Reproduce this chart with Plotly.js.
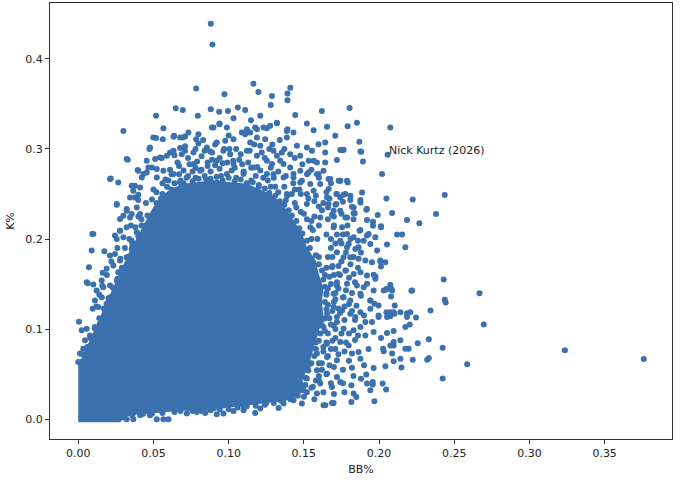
<!DOCTYPE html>
<html>
<head>
<meta charset="utf-8">
<script src="https://cdn.plot.ly/plotly-3.0.1.min.js"></script>
<style>
  html, body { margin: 0; padding: 0; background: #fff; }
  #chart { width: 680px; height: 483px; }
</style>
</head>
<body>
<div id="chart"></div>
<script>
// BB% / K% pairs

// the solid mass of players: its outline
const nucleo = [
  [0, 0], [0.027, 0], [0.029, 0.005], [0.034, 0.007], [0.040, 0.009], [0.050, 0.010],
  [0.062, 0.011], [0.070, 0.013], [0.080, 0.012], [0.090, 0.014], [0.100, 0.015],
  [0.110, 0.017], [0.120, 0.019], [0.130, 0.022], [0.138, 0.024], [0.145, 0.028],
  [0.148, 0.035], [0.147, 0.045], [0.150, 0.055], [0.153, 0.070], [0.156, 0.085],
  [0.158, 0.100], [0.161, 0.115], [0.160, 0.130], [0.161, 0.145], [0.158, 0.160],
  [0.156, 0.175], [0.150, 0.190], [0.147, 0.205], [0.141, 0.220], [0.135, 0.235],
  [0.128, 0.246], [0.120, 0.252], [0.112, 0.258], [0.100, 0.260], [0.090, 0.262],
  [0.080, 0.260], [0.070, 0.258], [0.062, 0.252], [0.056, 0.244], [0.051, 0.232],
  [0.047, 0.220], [0.043, 0.207], [0.039, 0.195], [0.035, 0.182], [0.031, 0.167],
  [0.027, 0.152], [0.023, 0.137], [0.019, 0.120], [0.015, 0.105], [0.011, 0.090],
  [0.007, 0.076], [0.004, 0.066], [0.001, 0.062], [0, 0.060]
];

// points crowding the edge of the solid mass
const borde = [
  [.052,.240],[.056,.250],[.059,.258],[.064,.262],[.068,.265],[.072,.268],[.076,.264],[.080,.267],
  [.084,.270],[.088,.267],[.092,.269],[.096,.265],[.100,.268],[.104,.264],[.108,.266],[.112,.262],
  [.116,.263],[.120,.258],[.124,.256],[.127,.251],[.131,.248],[.134,.242],[.137,.238],[.140,.232],
  [.142,.226],[.145,.220],[.147,.212],[.149,.206],[.152,.198],[.154,.190],
  [.062,.272],[.070,.276],[.078,.279],[.086,.281],[.094,.278],[.102,.276],[.110,.274],[.118,.270],
  [.126,.265],[.131,.258],[.139,.248],[.144,.240],[.148,.230],[.152,.222],[.156,.210],[.159,.200],
  [.058,.266],[.052,.252],[.049,.244],
  [.158,.182],[.160,.172],[.162,.165],[.163,.155],[.164,.147],[.165,.138],[.164,.130],[.165,.122],
  [.164,.112],[.162,.104],[.161,.095],[.160,.087],[.158,.078],[.157,.070],[.155,.062],[.153,.054],
  [.151,.046],[.151,.038],
  [.168,.190],[.166,.180],[.169,.170],[.170,.160],[.168,.150],[.171,.140],[.170,.130],[.169,.120],
  [.168,.105],[.166,.095],[.165,.085],[.163,.075],[.162,.062],[.160,.048],
  [.046,.226],[.042,.215],[.040,.203],[.036,.192],[.033,.180],[.029,.168],[.026,.156],[.023,.146],
  [.020,.134],[.017,.123],[.014,.112],[.011,.101],[.008,.090],[.006,.080],[.003,.072],
  [.030,.002],[.036,.004],[.043,.006],[.049,.006],[.056,.007],[.064,.008],[.068,.009],[.076,.009],
  [.082,.009],[.088,.010],[.094,.011],[.100,.011],[.106,.013],[.112,.014],[.118,.015],[.124,.016],
  [.130,.018],[.136,.020],[.141,.022],[.146,.026],
  [.162,.232],[.166,.222],[.170,.215],[.172,.205],[.175,.195],[.168,.200],[.165,.205],[.160,.215],
  [.157,.225],[.163,.240],[.167,.245],[.158,.248],[.153,.245],[.148,.250],[.144,.255],[.175,.175],
  [.178,.165],[.173,.145],[.176,.135],[.177,.125],[.174,.118],[.172,.108],[.175,.095],[.171,.090],
  [.168,.078],[.173,.072],[.167,.060],[.162,.055],[.158,.043],[.155,.035],[.152,.030],
  [.066,.285],[.073,.290],[.082,.292],[.086,.285],[.094,.290],[.099,.285],[.107,.288],[.113,.285],
  [.119,.280],[.124,.290],[.084,.298],[.091,.305],[.105,.300],[.117,.305],[.129,.305],[.134,.310],
  [.100,.315],[.083,.310]
];

// thick band just right of the mass
const bandaDerecha = [
  [.166,.235],[.171,.238],[.175,.228],[.170,.225],[.179,.215],[.183,.222],[.176,.205],[.181,.200],
  [.186,.198],[.171,.195],[.178,.185],[.183,.180],[.188,.185],[.169,.180],[.173,.170],[.181,.172],
  [.186,.168],[.165,.168],[.174,.160],[.180,.157],[.167,.158],[.184,.152],[.172,.148],[.178,.143],
  [.166,.145],[.182,.140],[.188,.137],[.171,.133],[.180,.128],[.185,.126],[.166,.127],[.173,.123],
  [.182,.120],[.190,.115],[.167,.112],[.177,.110],[.184,.110],[.171,.100],[.180,.095],[.186,.093],
  [.164,.098],[.169,.087],[.178,.085],[.184,.088],[.163,.080],[.171,.078],[.177,.075],[.166,.070],
  [.180,.065],[.160,.062],[.170,.058],[.176,.055],[.182,.057],[.165,.050],[.160,.043],[.168,.040],
  [.176,.040],[.156,.036],[.163,.030],[.170,.028],[.177,.030],[.150,.025],[.157,.022],[.188,.045],
  [.183,.048],[.190,.060],[.193,.078]
];

// thick band over the top and along the left of the mass
const bandaArriba = [
  [.056,.262],[.061,.277],[.067,.281],[.074,.283],[.079,.286],[.089,.288],[.096,.284],[.103,.287],
  [.109,.283],[.115,.279],[.121,.276],[.128,.279],[.133,.275],[.138,.270],[.143,.262],[.147,.255],
  [.152,.250],[.157,.242],[.160,.236],[.064,.293],[.071,.303],[.078,.300],[.089,.296],[.097,.300],
  [.108,.294],[.114,.298],[.122,.296],[.127,.300],[.137,.300],[.144,.290],[.149,.283],[.155,.277],
  [.160,.268],[.165,.252],[.168,.262],[.082,.277],[.091,.282],[.104,.279],[.076,.275],[.067,.272],
  [.130,.268],[.137,.258],[.142,.250],
  [.028,.178],[.031,.190],[.034,.200],[.038,.213],[.042,.222],[.035,.215],[.030,.202],[.026,.190],
  [.022,.175],[.019,.160],[.016,.148],[.014,.138],[.012,.125]
];

// upper fringe
const arriba = [
  [.0881,.4389],[.0892,.416],[.0784,.367],[.1165,.3724],[.1198,.3632],[.0972,.3607],[.1288,.3588],
  [.141,.368],[.1391,.3614],[.1391,.354],[.128,.3488],[.0648,.3452],[.0695,.3433],[.0881,.344],
  [.0937,.3414],[.0995,.3422],[.1061,.3459],[.111,.3433],[.162,.3422],[.0517,.3367],[.0795,.3367],
  [.1443,.3378],[.030,.320],[.0566,.323],[.1654,.3245],[.121,.3367],[.1032,.3341],[.1148,.3319],
  [.152,.3281],[.1565,.3208],[.1321,.3286],[.1391,.3219],[.0899,.3237],[.0939,.3281],[.1088,.3182],
  [.1176,.3237],[.1254,.323],[.0322,.2887],[.0499,.3126],[.0633,.3134],[.0695,.3126],[.0732,.3182],
  [.0799,.3164],[.0477,.3016],[.0399,.2757],[.0211,.2666],[.0266,.2628],[.0256,.2389],[.0355,.2591],
  [.0377,.2462],[.010,.2056],[.1387,.3126],[.1431,.3182],[.1709,.3145],[.1642,.3071],[.1598,.3053],
  [.172,.2876],[.152,.3016],[.1476,.2924],[.1565,.2868],[.1642,.285],[.1731,.2647],[.1664,.2666],
  [.1598,.2721],[.1531,.2739],[.1431,.2721],[.1321,.2924],[.1254,.2868],[.1188,.2924],[.1121,.2979],
  [.101,.2942],[.0855,.3016],[.0766,.296],[.0688,.2942],[.061,.296],[.0544,.2905],[.0455,.2868],
  [.0433,.2721],[.0489,.2794],[.0522,.2683],[.0411,.2573],[.0322,.2333],[.0278,.2222],[.0355,.2278],
  [.0278,.2093],[.0244,.2038],[.0766,.2832],[.0921,.2868],[.1032,.2832],[.1165,.2794],[.1365,.2832],
  [.081,.2757],[.0988,.2721],[.1099,.2721],[.1254,.2721],[.0633,.2721],[.0566,.2757],[.0677,.2628],
  [.0921,.2628],[.1121,.261],[.1476,.2628],[.1387,.2499],[.1565,.2536],[.1654,.2462],[.152,.2389],
  [.1698,.2314],[.1609,.224],[.1698,.213],[.1543,.213],
  [.0517,.312],[.0562,.3108],[.0637,.3145],[.0677,.3126],[.071,.3137],[.0784,.3108],[.0888,.3237],
  [.0939,.3274],[.0988,.3237],[.1121,.3219],[.0921,.3071],[.0977,.309],[.1032,.3108],[.0965,.2979],
  [.1005,.2998],[.0329,.2879],[.0473,.2998],[.0216,.2673],[.0395,.2765],[.0422,.2683],[.0377,.2591],
  [.0511,.2887],[.0555,.2898],[.0589,.2924],[.0633,.2979],[.0677,.3009],[.071,.2979],[.0799,.306],
  [.0877,.2971],[.0344,.2462],[.0366,.2536],[.0399,.2492],[.0466,.2794],[.0455,.2739],[.0522,.2776],
  [.1321,.3292],[.1276,.3256],[.1232,.3237],[.1188,.3219],[.1143,.3182],[.111,.3164],[.1387,.32],
  [.1243,.3108],[.1188,.3126],[.1143,.3071],[.121,.3034],[.1454,.3034],[.1554,.2979],[.1642,.296],
  [.1742,.2987],[.1764,.299],[.1876,.2971],[.1787,.2647],[.1742,.2647],[.1676,.2666],[.1298,.2979],
  [.1354,.296],[.1409,.2942],[.1532,.2868],[.1587,.285],[.1343,.2868],[.1288,.2832],[.1409,.2794],
  [.1476,.2757],[.1521,.272],[.1587,.272],[.1631,.2757],[.1298,.272],[.1365,.2683],[.1431,.2683],
  [.1487,.2647],[.1543,.261],[.1609,.261],[.1665,.2555],[.172,.25],[.1809,.2481],[.1742,.2462],
  [.055,.245],[.062,.255],[.070,.262],[.078,.268],[.085,.266],[.095,.270],[.105,.268],[.115,.265],
  [.120,.260],[.128,.258],[.133,.252],[.138,.243],[.145,.235],[.150,.228],[.155,.220],[.060,.265],
  [.073,.270],[.088,.275],[.110,.275],[.123,.268],[.050,.255],[.045,.240],[.040,.225],[.047,.218]
];

// left fringe
const izquierda = [
  [.0256,.2381],[.0399,.2433],[.0389,.2351],[.0322,.2314],[.03,.2259],[.0344,.224],[.0411,.2278],
  [.0093,.2056],[.0089,.1872],[.0173,.1864],[.0256,.2001],[.0278,.2093],[.0322,.213],[.0355,.1982],
  [.0389,.2074],[.0211,.1816],[.0244,.1835],[.0278,.1761],[.0322,.1797],[.0355,.189],[.0389,.1835],
  [.0071,.1687],[.0162,.1625],[.0189,.1669],[.0233,.1705],[.0266,.1631],[.0056,.152],[.01,.1495],
  [.0156,.1539],[.0122,.1429],[.0166,.1465],[.0211,.1484],[.0256,.1429],[.0111,.1318],[.0156,.1354],
  [.0189,.1281],[.0096,.1226],[.0133,.1244],[.0178,.1188],[.0211,.1163],[.0005,.1082],[.0063,.151],
  [.0023,.0986],[.0056,.1004],[.0078,.093],[.0045,.0875],[.0111,.1022],[.0144,.106],[.0166,.0967],
  [.0122,.0875],[.0011,.0728],[.0033,.0783],[.0067,.0709],[.01,.0764],[0,.0635],[.0023,.0579],
  [.0056,.0617],[.0144,.0653],[.0189,.069],[.0244,.0911],[.0266,.1096],[.0233,.1244],[.0278,.1318],
  [.0211,.1354],[.0256,.1539],[.040,.205],[.045,.215],[.036,.195],[.033,.170],[.028,.155],[.030,.145]
];

// right fringe
const derecha = [
  [.1804,.3455],[.1791,.3252],[.1853,.3292],[.2075,.3237],[.176,.2987],[.1869,.3079],[.1882,.2968],
  [.1893,.2861],[.202,.2721],[.1742,.2647],[.1791,.2628],[.1887,.2517],[.1876,.2433],[.1776,.25],
  [.176,.2414],[.2049,.2451],[.2224,.244],[.2437,.2488],[.1831,.2351],[.1915,.2326],[.2087,.2289],
  [.1991,.2267],[.2379,.2278],[.1838,.2285],[.1776,.224],[.192,.2211],[.196,.2193],[.2186,.2211],
  [.2268,.2174],[.2013,.213],[.1871,.2093],[.212,.2049],[.2153,.2049],[.192,.2038],[.196,.2148],
  [.2013,.2141],
  [.2175,.1908],[.2053,.1938],[.243,.155],[.2668,.1399],[.2437,.1326],[.2443,.1296],[.2215,.1425],
  [.2342,.1207],[.2696,.1052],[.2246,.113],[.2208,.1188],[.2186,.1177],[.2331,.0886],[.2257,.0842],
  [.2423,.0794],[.2586,.0609],[.2331,.0679],[.232,.0661],[.2224,.0661],[.2149,.0573],[.2423,.0451],
  [.2097,.0642],[.2042,.0587],[.1969,.0199],[.1816,.0192],[.1849,.0247],[.1831,.0285],[.192,.0395],
  [.1958,.0413],[.1958,.0384],[.2024,.0395],[.2047,.0329],[.1942,.0321],[.1816,.0376],[.1915,.0495],
  [.1964,.0568],[.2097,.0856],[.2142,.0875],[.2175,.0783],[.2197,.0783],[.2087,.0728],[.2027,.0783],
  [.2031,.0753],[.2075,.0819],[.2097,.0819],[.2142,.0672],[.2013,.09],[.2053,.0956],[.2097,.0978],
  [.2175,.1022],[.2204,.1052],[.2075,.1144],[.2102,.117],[.2097,.1188],[.2075,.1188],[.2049,.1188],
  [.1997,.1133],[.2104,.1262],[.208,.1362],[.208,.1447],[.2047,.144],[.2075,.1492],[.1977,.1584],
  [.1964,.1602],[.192,.1503],[.2013,.1694],[.2042,.1742],[.2009,.1761],[.1864,.1908],[.1787,.1908],
  [.1997,.1262],[.1969,.1281],[.1942,.1318],[.1909,.1078],[.1876,.1022],[.1831,.0986],[.1842,.1133],
  [.1953,.1078],[.1964,.0967],[.1909,.093],[.1864,.0746],[.1876,.0672],[.1798,.0819],[.182,.0728],
  [.192,.2333],[.1876,.2406],[.182,.2359],[.1716,.25],[.1764,.2492],[.1809,.2433],[.1664,.2389],
  [.1716,.2389],[.1742,.2314],[.1687,.227],[.1787,.224],[.1831,.2285],[.1876,.2101],[.1931,.2056],
  [.1975,.2019],[.1831,.2019],[.1898,.1982],[.1942,.1946],[.1987,.1872],[.1754,.213],[.1787,.2056],
  [.1742,.1982],[.1798,.1946],[.1842,.189],[.172,.1853],[.1764,.1797],[.1809,.1797],[.1864,.178],
  [.1909,.1761],[.1953,.1742],[.2009,.1753],[.1687,.1687],[.1731,.1613],[.1776,.165],[.1831,.1613],
  [.1876,.1631],[.192,.1595],[.1975,.1558],[.172,.152],[.1787,.1503],[.1853,.1484],[.1898,.1465],
  [.1964,.1429],[.1698,.1392],[.1764,.1354],[.1809,.1318],[.1876,.1392],[.1942,.1318],[.2031,.1429],
  [.2053,.1447],[.2087,.1429],[.222,.1429],[.1698,.1244],[.1754,.1207],[.1809,.117],[.1876,.1188],
  [.1942,.1226],[.1997,.1152],[.2053,.1133],[.2142,.1188],[.2186,.1133],
  [.1654,.117],[.172,.1133],[.1631,.1022],[.1698,.1041],[.1764,.1004],[.1654,.0838],[.1742,.0856],
  [.1587,.0728],[.1654,.069],[.172,.0653],[.1587,.0543],[.1654,.0506],[.172,.0468],[.1609,.0395],
  [.1687,.0358],[.1742,.0413],[.1498,.0321],[.1431,.0376],[.152,.0451],[.1587,.0285],[.1409,.0247],
  [.1343,.021],[.1631,.0155],[.1698,.018],
  [.3236,.0764],[.376,.0668]
];

// lower fringe
const abajo = [
  [.0322,0],[.0366,0],[.0411,.0044],[.0477,.0044],[.0522,0],[.0566,0],[.06,0],[.0722,.0063],
  [.0788,.0081],[.0844,.007],[.0921,.0055],[.0965,.0063],[.1032,.0092],[.1099,.01],[.1176,.007],
  [.121,.0118],[.1332,.0125],[.1365,.0174],[.1431,.021],[.1487,.0174],[.1643,.0155],[.1687,.018],
  [.028,.004],[.035,.008],[.045,.009],[.055,.01],[.065,.011],[.09,.012],[.11,.015],[.125,.018],
  [.14,.026],[.147,.035],[.153,.06],[.158,.085],[.162,.11],[.165,.14],[.164,.16],[.16,.18],[.155,.2]
];

const kurtz = [[0.2057, 0.2935]];
const kurtzNombre = "Nick Kurtz (2026)";

const azul = "#3a71ae";
const fuente = { family: "DejaVu Sans, sans-serif", size: 11, color: "#222" };

const puntos = borde.concat(bandaDerecha, bandaArriba, arriba, izquierda, derecha, abajo, kurtz);

const trazas = [
  {
    x: nucleo.map(p => p[0]),
    y: nucleo.map(p => p[1]),
    type: "scatter",
    mode: "lines",
    fill: "toself",
    fillcolor: azul,
    line: { color: azul, width: 6 },
    hoverinfo: "skip"
  },
  {
    x: puntos.map(p => p[0]),
    y: puntos.map(p => p[1]),
    type: "scatter",
    mode: "markers",
    marker: { color: azul, size: 6, line: { width: 0 } }
  }
];

const ejeBase = {
  showgrid: false,
  zeroline: false,
  showline: true,
  mirror: true,
  linecolor: "#333",
  linewidth: 1,
  ticks: "outside",
  ticklen: 4,
  tickwidth: 1,
  tickcolor: "#333",
  tickfont: fuente
};

const layout = {
  width: 680,
  height: 483,
  margin: { l: 50, r: 8, t: 3, b: 44 },
  paper_bgcolor: "#fff",
  plot_bgcolor: "#fff",
  showlegend: false,
  font: fuente,
  xaxis: Object.assign({}, ejeBase, {
    range: [-0.0188, 0.3948],
    tickvals: [0, 0.05, 0.1, 0.15, 0.2, 0.25, 0.3, 0.35],
    tickformat: ".2f",
    title: { text: "BB%", font: fuente, standoff: 6 }
  }),
  yaxis: Object.assign({}, ejeBase, {
    range: [-0.022, 0.462],
    tickvals: [0, 0.1, 0.2, 0.3, 0.4],
    tickformat: ".1f",
    title: { text: "K%", font: fuente, standoff: 8 }
  }),
  annotations: [{
    x: kurtz[0][0],
    y: 0.2984,
    xref: "x",
    yref: "y",
    text: kurtzNombre,
    showarrow: false,
    xanchor: "left",
    yanchor: "middle",
    xshift: -1,
    font: fuente
  }]
};

Plotly.newPlot("chart", trazas, layout, { staticPlot: true, displayModeBar: false });
</script>
</body>
</html>
